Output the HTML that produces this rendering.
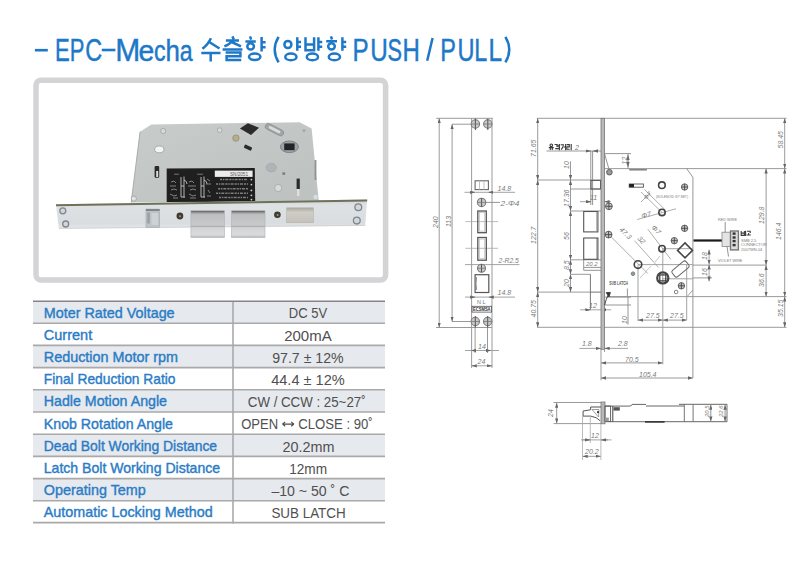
<!DOCTYPE html>
<html><head><meta charset="utf-8">
<style>
html,body{margin:0;padding:0;background:#fff;}
body{width:810px;height:565px;overflow:hidden;position:relative;font-family:"Liberation Sans",sans-serif;}
svg{position:absolute;left:0;top:0;}
</style></head><body>
<svg width="810" height="565" viewBox="0 0 810 565">
<!-- TITLE -->
<g id="title" fill="#1e78c8" stroke="#1e78c8" stroke-width="0.45" font-family="Liberation Sans, sans-serif" font-size="32">
  <rect x="34.9" y="48.9" width="12.9" height="2.6" stroke="none"/>
  <rect x="101.8" y="48.7" width="13.6" height="2.6" stroke="none"/>
  <text transform="translate(56.80 60.5) scale(0.692 1)" x="-2.62">E</text>
  <text transform="translate(71.60 60.5) scale(0.687 1)" x="-2.62">P</text>
  <text transform="translate(86.40 60.5) scale(0.730 1)" x="-1.62">C</text>
  <text transform="translate(117.80 60.5) scale(0.939 1)" x="-2.62">M</text>
  <text transform="translate(139.80 60.5) scale(0.961 1)" x="-1.25" font-size="29.5">e</text>
  <text transform="translate(154.95 60.5) scale(0.786 1)" x="-1.25" font-size="29.5">c</text>
  <text transform="translate(167.35 60.5) scale(0.876 1)" x="-2.05" font-size="29.5">h</text>
  <text transform="translate(180.65 60.5) scale(0.785 1)" x="-1.25" font-size="29.5">a</text>
  <text transform="translate(354.35 60.5) scale(0.757 1)" x="-2.62">P</text>
  <text transform="translate(372.05 60.5) scale(0.759 1)" x="-2.47">U</text>
  <text transform="translate(388.45 60.5) scale(0.679 1)" x="-1.45">S</text>
  <text transform="translate(404.45 60.5) scale(0.750 1)" x="-2.62">H</text>
  <text transform="translate(442.05 60.5) scale(0.734 1)" x="-2.62">P</text>
  <text transform="translate(459.35 60.5) scale(0.737 1)" x="-2.47">U</text>
  <text transform="translate(476.25 60.5) scale(0.730 1)" x="-2.62">L</text>
  <text transform="translate(490.45 60.5) scale(0.765 1)" x="-2.62">L</text>
  <path d="M278.6 36.8 Q270.8 49.6 278.6 62.4 M505.4 36.8 Q513.2 49.6 505.4 62.4 M432.6 38 L427.2 60.8" fill="none" stroke-width="2.5"/>
</g>
<g id="kor" fill="none" stroke="#1e78c8" stroke-width="2.5">
  <!-- 수 -->
  <path d="M210.9 38.2 Q208.4 44 202.4 48.8 M209.6 42.2 L219.5 48.5 M201.3 53 H220.5 M210.7 53 V61.4"/>
  <!-- 출 -->
  <path d="M232.4 36.4 L233.8 39.4 M225.9 40.4 H239 M232.6 40.4 Q230.4 44 224.4 46.4 M231.6 42 L241 46.4 M222.6 49.5 H242.4 M225.6 52.5 H240.4 V56.3 H226.6 V60.1 H241.2"/>
  <!-- 향 -->
  <path d="M250 36.4 L251.2 39.6 M245.4 41.4 H255.8 M261.6 37 V51.6 M261.6 42.2 H265.6 M261.6 47.2 H265.6"/>
  <ellipse cx="250.6" cy="46.4" rx="3.3" ry="3.1"/>
  <ellipse cx="254.7" cy="56.8" rx="5.7" ry="3.2"/>
  <!-- 양 -->
  <ellipse cx="287.9" cy="44.5" rx="3.5" ry="3.6"/>
  <path d="M297.3 37.3 V50.7 M297.3 42 H301 M297.3 46.8 H301"/>
  <ellipse cx="290.9" cy="56.9" rx="5.6" ry="3.3"/>
  <!-- 방 -->
  <path d="M305.5 37.3 V50.3 H314.1 V37.3 M305.5 44.6 H314.1 M318.4 37.3 V50.7 M318.4 42 H322.2 M318.4 46.8 H322.2"/>
  <ellipse cx="312.4" cy="56.9" rx="5.6" ry="3.3"/>
  <!-- 향 -->
  <path d="M330.9 36.4 L332.1 39.5 M326.2 41.3 H337 M342.4 37.3 V50.7 M342.4 42 H346.2 M342.4 46.8 H346.2"/>
  <ellipse cx="331.5" cy="46.3" rx="3.3" ry="3.1"/>
  <ellipse cx="334.4" cy="56.9" rx="5.6" ry="3.3"/>
</g>

<!-- PHOTO BOX -->
<rect x="36" y="80.2" width="349.6" height="199.7" rx="5" ry="5" fill="#fff" stroke="#d4d4d7" stroke-width="5.5"/>
<defs>
  <linearGradient id="gBody" x1="0" y1="0" x2="1" y2="1">
    <stop offset="0" stop-color="#c8cccb"/>
    <stop offset="0.5" stop-color="#c2c7c6"/>
    <stop offset="1" stop-color="#bdc2c1"/>
  </linearGradient>
  <linearGradient id="gFace" x1="0" y1="0" x2="0" y2="1">
    <stop offset="0" stop-color="#cfd3d6"/>
    <stop offset="0.2" stop-color="#dfe2e5"/>
    <stop offset="0.8" stop-color="#dadde0"/>
    <stop offset="1" stop-color="#e4e6e8"/>
  </linearGradient>
  <linearGradient id="gBolt" x1="0" y1="0" x2="0" y2="1">
    <stop offset="0" stop-color="#47494b"/>
    <stop offset="0.06" stop-color="#8e9092"/>
    <stop offset="0.13" stop-color="#bcbec0"/>
    <stop offset="0.5" stop-color="#c8c9ca"/>
    <stop offset="0.56" stop-color="#c2c3c4"/>
    <stop offset="0.58" stop-color="#a8a9aa"/>
    <stop offset="0.63" stop-color="#d2d3d4"/>
    <stop offset="0.9" stop-color="#dadbdc"/>
    <stop offset="1" stop-color="#b4b5b6"/>
  </linearGradient>
  <linearGradient id="gLatch" x1="0" y1="0" x2="0" y2="1">
    <stop offset="0" stop-color="#a9a79f"/>
    <stop offset="0.3" stop-color="#cfcdc5"/>
    <stop offset="1" stop-color="#c4c2ba"/>
  </linearGradient>
</defs>
<g id="lock">
  <!-- body -->
  <polygon points="140.1,131.7 151.3,124.4 299.6,122.2 311.6,128.5 318.8,201.5 131.2,202.5" fill="url(#gBody)"/>
  <line x1="140.1" y1="131.7" x2="131.2" y2="202.5" stroke="#a8abad" stroke-width="1"/>
  <!-- screws / holes on body -->
  <circle cx="163.2" cy="131" r="2.6" fill="#d7d9da" stroke="#a0a3a5" stroke-width="0.8"/>
  <circle cx="219.7" cy="130.2" r="2.4" fill="#d7d9da" stroke="#a0a3a5" stroke-width="0.8"/>
  <circle cx="304" cy="130.6" r="1.6" fill="#a7aaac"/>
  <ellipse cx="159.3" cy="149.4" rx="4.6" ry="3.4" fill="#f4f5f5" stroke="#9d9fa0" stroke-width="0.8"/>
  <rect x="154.6" y="166" width="4.6" height="11.8" rx="1" fill="#2a2a2a"/>
  <rect x="156.2" y="171" width="2" height="6" fill="#dcdcdc"/>
  <circle cx="133.8" cy="198.6" r="2.6" fill="#e0e2e3" stroke="#9a9c9d" stroke-width="0.8"/>
  <polygon points="239.9,128.5 247.9,123.2 259,127.7 251,134.9" fill="#2b2b2b"/>
  <g transform="rotate(27 274.5 129.7)"><rect x="264.5" y="126.7" width="20" height="6" rx="3" fill="#a2a5a7" stroke="#8d9092" stroke-width="0.8"/><rect x="268" y="128.3" width="13" height="2.6" rx="1.3" fill="#d9dbdc"/></g>
  <circle cx="235.9" cy="138.1" r="3.2" fill="#b8ad86" stroke="#8e8f86" stroke-width="0.8"/>
  <g transform="rotate(25 247.9 147.6)"><rect x="244" y="145.8" width="8" height="3.6" rx="1" fill="#2b2b2b"/></g>
  <ellipse cx="289.4" cy="146.8" rx="9" ry="5.8" fill="#9ea2a5" stroke="#7f8386" stroke-width="1"/>
  <rect x="284.2" y="143.4" width="10.4" height="6.8" fill="#1f2628"/>
  <ellipse cx="271.2" cy="167.6" rx="5.2" ry="4.4" fill="#b1b4b7" stroke="#a0a3a6" stroke-width="0.6"/>
  <rect x="282.4" y="172.3" width="2.8" height="2.6" fill="#7d7f80"/>
  <circle cx="278.2" cy="188" r="3.6" fill="#d8dadb" stroke="#a4a6a7" stroke-width="0.8"/>
  <rect x="296.6" y="178.6" width="3.2" height="10.4" fill="#2a2a2a"/>
  <rect x="297" y="189" width="2.4" height="7" fill="#e0dfd8"/>
  <rect x="314.6" y="160" width="1.8" height="20" fill="#8f9294"/>
  <circle cx="315.6" cy="197" r="2.2" fill="#cfe0e8"/>
  <!-- label -->
  <polygon points="166.7,168.4 254.8,168.1 255.2,201.4 166.7,202" fill="#1f1f1f"/>
  <rect x="214.8" y="170.6" width="37.8" height="6.3" fill="#ececec"/>
  <text x="230" y="175.9" font-family="Liberation Sans, sans-serif" font-size="5.6" fill="#555" textLength="18" lengthAdjust="spacingAndGlyphs">SN/2051</text>
  <g stroke="#8a8a8a" stroke-width="0.8" fill="none">
    <path d="M174 174.2 h5 M197 174.2 h6"/>
  </g>
  <g stroke="#c4c4c4" stroke-width="0.9" fill="none">
    <path d="M181 177 v20 M184 176.5 v21 M181 186 h3 M184 180 q3 1 3 4 M181 197 h4"/>
    <path d="M201 177 v20 M204 176.5 v21 M201 186 h3 M204 180 q3 1 3 4 M201 197 h4"/>
  </g>
  <g stroke="#9a9a9a" stroke-width="0.8" fill="none">
    <path d="M171 182 l3 -1 l2 2 M170 186 h6 M171 190 q3 -2 6 0 M170 194 l4 2 l3 -1 M173 198 h5"/>
    <path d="M189 182 l3 -1 l2 2 M188 186 h8 M190 190 q3 -2 6 0 M189 194 l4 2 l3 -1 M190 198 h6"/>
    <path d="M207 179 l3 2 M206 184 h5 M208 190 l2 3 M207 196 h4"/>
  </g>
  <g stroke="#7e7e7e" stroke-width="1.5" fill="none" stroke-dasharray="2.2 0.8 1.4 0.9 3 1">
    <path d="M220 179.6 H248 M216 184 H248 M218 188.8 H248 M216 193.2 H248 M219 197.6 H248"/>
  </g>
  <g fill="#cfcfcf"><circle cx="251.4" cy="179.6" r="0.9"/><circle cx="251.4" cy="184.6" r="0.9"/><circle cx="251.4" cy="190.4" r="0.9"/><circle cx="251.4" cy="195.3" r="0.9"/><circle cx="251.4" cy="199.6" r="0.9"/></g>
  <!-- faceplate -->
  <polygon points="55.9,204.2 367.2,199.6 365.2,225.6 58.8,228.6" fill="url(#gFace)"/>
  <polygon points="55.9,204.2 367.2,199.6 367.1,201.6 56.1,206.2" fill="#6f7158"/>
  <line x1="58.8" y1="228.4" x2="365.2" y2="225.4" stroke="#c9cbcd" stroke-width="0.8"/>
  <!-- faceplate screws -->
  <g fill="#d2d6d8" stroke="#7d8790" stroke-width="1.3">
    <circle cx="62.8" cy="210.8" r="3"/>
    <circle cx="65.7" cy="224" r="3"/>
    <circle cx="358.3" cy="207.2" r="3.4"/>
    <circle cx="356.8" cy="220.6" r="3.4"/>
  </g>
  <circle cx="179.9" cy="216" r="3.4" fill="#3c3c32"/><circle cx="180.1" cy="216.2" r="1" fill="#a89a6a"/>
  <circle cx="277.4" cy="214.8" r="3.3" fill="#3c3c32"/><circle cx="277.6" cy="215" r="1" fill="#a89a6a"/>
  <!-- aux latch -->
  <rect x="146" y="209.1" width="13.6" height="18.2" fill="#bcc2c5" stroke="#a3a8ab" stroke-width="0.6"/>
  <rect x="146" y="209.1" width="13.6" height="1.8" fill="#7b8083"/>
  <rect x="147.2" y="212.5" width="2.6" height="11" fill="#9aa0a3"/>
  <rect x="151.5" y="213" width="6.5" height="12" fill="#cdd3d5"/>
  <!-- bolts -->
  <rect x="190.9" y="210.8" width="33.6" height="26.7" fill="url(#gBolt)" stroke="#b0b2b4" stroke-width="0.6"/>
  <rect x="231.4" y="210.8" width="33.6" height="26.7" fill="url(#gBolt)" stroke="#b0b2b4" stroke-width="0.6"/>
  <!-- latch -->
  <rect x="286.7" y="207.8" width="26.7" height="14.9" fill="url(#gLatch)" stroke="#b5b3ab" stroke-width="0.6"/>
</g>

<!-- TABLE -->
<g id="table">
  <rect x="33" y="301" width="352" height="22.2" fill="#e6e9ed"/>
  <rect x="33" y="345.4" width="352" height="22.2" fill="#e6e9ed"/>
  <rect x="33" y="389.8" width="352" height="22.2" fill="#e6e9ed"/>
  <rect x="33" y="434.2" width="352" height="22.2" fill="#e6e9ed"/>
  <rect x="33" y="478.6" width="352" height="22.2" fill="#e6e9ed"/>
  <g stroke="#a9a9a9" stroke-width="1.6">
    <line x1="33" y1="323.2" x2="385" y2="323.2"/>
    <line x1="33" y1="345.4" x2="385" y2="345.4"/>
    <line x1="33" y1="367.6" x2="385" y2="367.6"/>
    <line x1="33" y1="389.8" x2="385" y2="389.8"/>
    <line x1="33" y1="412" x2="385" y2="412"/>
    <line x1="33" y1="434.2" x2="385" y2="434.2"/>
    <line x1="33" y1="456.4" x2="385" y2="456.4"/>
    <line x1="33" y1="478.6" x2="385" y2="478.6"/>
    <line x1="33" y1="500.8" x2="385" y2="500.8"/>
    <line x1="33" y1="522.6" x2="385" y2="522.6"/>
    <line x1="233" y1="301" x2="233" y2="523.4"/>
  </g>
  <line x1="33" y1="301.2" x2="385" y2="301.2" stroke="#858585" stroke-width="1.6"/>
  <g fill="#2a7cc6" stroke="#2a7cc6" stroke-width="0.4" font-size="14.8" font-family="Liberation Sans, sans-serif">
    <text x="43.8" y="317.6" textLength="130.8" lengthAdjust="spacingAndGlyphs">Moter Rated Voltage</text>
    <text x="43.8" y="339.8" textLength="48.4" lengthAdjust="spacingAndGlyphs">Current</text>
    <text x="43.8" y="362.0" textLength="134.1" lengthAdjust="spacingAndGlyphs">Reduction Motor rpm</text>
    <text x="43.8" y="384.2" textLength="131.7" lengthAdjust="spacingAndGlyphs">Final Reduction Ratio</text>
    <text x="43.8" y="406.4" textLength="123.2" lengthAdjust="spacingAndGlyphs">Hadle Motion Angle</text>
    <text x="43.8" y="428.6" textLength="129.2" lengthAdjust="spacingAndGlyphs">Knob Rotation Angle</text>
    <text x="43.8" y="450.8" textLength="173.3" lengthAdjust="spacingAndGlyphs">Dead Bolt Working Distance</text>
    <text x="43.8" y="473.0" textLength="176.3" lengthAdjust="spacingAndGlyphs">Latch Bolt Working Distance</text>
    <text x="43.8" y="495.2" textLength="102.0" lengthAdjust="spacingAndGlyphs">Operating Temp</text>
    <text x="43.8" y="517.4" textLength="168.8" lengthAdjust="spacingAndGlyphs">Automatic Locking Method</text>
  </g>
  <g fill="#505050" font-size="15.2" font-family="Liberation Sans, sans-serif">
    <text x="288.8" y="318.3" textLength="38.3" lengthAdjust="spacingAndGlyphs">DC 5V</text>
    <text x="284.2" y="340.5" textLength="47.5" lengthAdjust="spacingAndGlyphs">200mA</text>
    <text x="272.2" y="362.7" textLength="71.5" lengthAdjust="spacingAndGlyphs">97.7 ± 12%</text>
    <text x="271.2" y="384.9" textLength="73.5" lengthAdjust="spacingAndGlyphs">44.4 ± 12%</text>
    <text x="247.8" y="407.1" textLength="117.8" lengthAdjust="spacingAndGlyphs">CW / CCW : 25~27˚</text>
    <text x="241.2" y="429.3" textLength="37" lengthAdjust="spacingAndGlyphs">OPEN</text>
    <text x="298.2" y="429.3" textLength="74.5" lengthAdjust="spacingAndGlyphs">CLOSE : 90˚</text>
    <path d="M282.6 424.1 H293.8 M282.4 424.1 L285.2 421.9 M282.4 424.1 L285.2 426.3 M294 424.1 L291.2 421.9 M294 424.1 L291.2 426.3" stroke="#4a4a4a" stroke-width="1.1" fill="none"/>
    <text x="282.6" y="451.5" textLength="52.0" lengthAdjust="spacingAndGlyphs">20.2mm</text>
    <text x="289.2" y="473.7" textLength="37.9" lengthAdjust="spacingAndGlyphs">12mm</text>
    <text x="271.4" y="495.9" textLength="78.0" lengthAdjust="spacingAndGlyphs">–10 ~ 50 ˚ C</text>
    <text x="271.4" y="518.1" textLength="74.3" lengthAdjust="spacingAndGlyphs">SUB LATCH</text>
  </g>
</g>
<!-- DRAWING -->
<defs>
  <marker id="ar" viewBox="0 0 6 4" refX="6" refY="2" markerWidth="5" markerHeight="3.4" orient="auto-start-reverse" markerUnits="userSpaceOnUse"><path d="M0 0 L6 2 L0 4 Z" fill="#666"/></marker>
</defs>
<g id="draw" fill="none" stroke="#8f8f8f" stroke-width="0.9">
  <!-- LEFT VIEW -->
  <path d="M436.2 118.3 H492.8 M452 124.2 H472 M452 321.5 H472 M436 327.5 H492 M471.6 118.3 V367.9 M492 118.3 V367.9"/>
  <path d="M439.2 118.3 V327.5" marker-start="url(#ar)" marker-end="url(#ar)"/>
  <path d="M452.1 124.2 V321.5" marker-start="url(#ar)" marker-end="url(#ar)"/>
  <path d="M475.1 321.5 V353 M487.5 321.5 V353"/>
  <path d="M464.5 192.3 H515 M465 264.6 H519.4 M465 297.1 H515 M465 350.5 H499 M471.6 365.8 H492" stroke="#999"/>
  <path d="M471.6 192.3 H475.1" marker-end="url(#ar)" stroke="#999"/>
  <path d="M492 192.3 H488.4" marker-end="url(#ar)" stroke="#999"/>
  <path d="M471.6 297.1 H475.1" marker-end="url(#ar)" stroke="#999"/>
  <path d="M492 297.1 H488.8" marker-end="url(#ar)" stroke="#999"/>
  <path d="M475.1 350.5 H471" marker-end="url(#ar)" stroke="#999"/>
  <path d="M487.5 350.5 H491" marker-end="url(#ar)" stroke="#999"/>
  <path d="M471.8 365.8 H474" marker-start="url(#ar)"/>
  <path d="M491.8 365.8 H489.6" marker-start="url(#ar)"/>
  <path d="M465.4 221.6 H498.1 M465.4 248.3 H498.1" stroke="#aaa" stroke-width="0.8"/>
  <rect x="475.1" y="180.8" width="13.3" height="8.8" stroke="#666" stroke-width="1.1"/>
  <path d="M479.5 180.8 V189.6 M484 180.8 V189.6" stroke="#bbb"/>
  <rect x="477.8" y="211" width="8.5" height="21.7" stroke="#555" stroke-width="1.3"/>
  <rect x="479.4" y="212.6" width="5.3" height="18.5" stroke="#bbb" stroke-width="0.7"/>
  <rect x="477.8" y="237.5" width="8.5" height="22.7" stroke="#555" stroke-width="1.3"/>
  <rect x="479.4" y="239.1" width="5.3" height="19.5" stroke="#bbb" stroke-width="0.7"/>
  <rect x="475.1" y="274.7" width="13.7" height="17.8" stroke="#555" stroke-width="1.2"/>
  <path d="M476.6 277 Q475.6 283.5 476.6 290" stroke="#888"/>
  <g stroke="#7a7a7a" stroke-width="1.1" fill="#c9c9c9">
    <circle cx="475.4" cy="124" r="4.2"/><circle cx="487.8" cy="124" r="4.2"/>
    <circle cx="475.3" cy="321.5" r="4.2"/><circle cx="487.7" cy="321.5" r="4.2"/>
    <circle cx="481.6" cy="202.4" r="4.2"/><circle cx="481.5" cy="268.3" r="4"/>
  </g>
  <g stroke="#555" stroke-width="1" fill="none">
    <path d="M475.4 118.5 V130 M487.8 118.5 V130 M475.3 316 V327.5 M487.7 316 V327.5 M481.6 198.2 V206.6 M481.5 264.3 V272.3"/>
    <path d="M471.6 124 H479.2 M484 124 H491.6 M471.6 321.5 H479.2 M484 321.5 H491.6 M477.4 202.4 H485.8 M477.5 268.3 H485.5" stroke="#777" stroke-width="0.8"/>
    <path d="M485.8 202.4 H500" stroke="#888" stroke-width="0.9"/>
  </g>
  <!-- MAIN VIEW -->
  <path d="M536.8 118.3 H786.5 M537 180 H602 M537 292.1 H590.4 M537 327.3 H786.5 M604.5 168.6 H786.5 M608 296.6 H786.5 M692.9 265.1 H766 M692.9 277.9 H712"/>
  <path d="M537.7 118.3 V180" marker-start="url(#ar)" marker-end="url(#ar)"/>
  <path d="M537.7 180 V292.1" marker-start="url(#ar)" marker-end="url(#ar)"/>
  <path d="M537.7 292.1 V327.3" marker-start="url(#ar)" marker-end="url(#ar)"/>
  <path d="M784.7 118.3 V168.6" marker-start="url(#ar)" marker-end="url(#ar)"/>
  <path d="M784.7 168.6 V296.6" marker-start="url(#ar)" marker-end="url(#ar)"/>
  <path d="M784.7 296.6 V327.3" marker-start="url(#ar)" marker-end="url(#ar)"/>
  <path d="M766.1 168.6 V265.1" marker-start="url(#ar)" marker-end="url(#ar)"/>
  <path d="M766.1 265.1 V296.6" marker-start="url(#ar)" marker-end="url(#ar)"/>
  <path d="M570.5 161.3 V180" marker-end="url(#ar)"/>
  <path d="M570.5 180 V211" marker-start="url(#ar)" marker-end="url(#ar)"/>
  <path d="M570.5 211 V259.8" marker-start="url(#ar)" marker-end="url(#ar)"/>
  <path d="M570.5 259.8 V274.3" marker-start="url(#ar)" marker-end="url(#ar)"/>
  <path d="M570.5 274.3 V292.1" marker-start="url(#ar)" marker-end="url(#ar)"/>
  <path d="M570 211 H601 M570 259.8 H601 M570 274.3 H590.4 M570 189 H600.5"/>
  <path d="M546.5 151 H601"/>
  <path d="M586 151 H590.8" marker-end="url(#ar)"/>
  <path d="M597 151 H593" marker-end="url(#ar)"/>
  <path d="M590.8 151 V205 M592.6 151 V205" stroke="#888"/>
  <rect x="591" y="180.4" width="9.5" height="8.6" stroke="#555" stroke-width="1"/>
  <path d="M580 201.7 H591 M611 201.7 H604.5" stroke="#999"/>
  <path d="M586 201.7 H591" marker-end="url(#ar)"/>
  <path d="M609 201.7 H604.5" marker-end="url(#ar)"/>
  <rect x="583.7" y="211.5" width="14.2" height="20.4" stroke="#555" stroke-width="1.1"/>
  <path d="M596.8 211.5 V231.9 M596.8 238 V259.3"/>
  <rect x="583.7" y="238" width="14.2" height="21.3" stroke="#555" stroke-width="1.1"/>
  <path d="M583.7 259.8 V270.3 H601 M583.7 267.4 H601" stroke="#888"/>
  <path d="M590.4 274.3 V309.8 M590.4 292.1 H601" stroke="#666"/>
  <path d="M580.2 309.8 H611.2 M579.3 348.4 H601 M604.5 348.4 H628" stroke="#999"/>
  <path d="M585 309.8 H590.4" marker-end="url(#ar)"/>
  <path d="M606 309.8 H601.3" marker-end="url(#ar)"/>
  <path d="M596 348.4 H600.8" marker-end="url(#ar)"/>
  <path d="M609 348.4 H604.7" marker-end="url(#ar)"/>
  <path d="M601 362.9 H662.8" marker-start="url(#ar)" marker-end="url(#ar)"/>
  <path d="M601 378 H692.9" marker-start="url(#ar)" marker-end="url(#ar)"/>
  <path d="M601 349 V380.3 M604.5 349 V352"/>
  <!-- faceplate bar -->
  <rect x="601" y="118.3" width="3.5" height="231" fill="#b9b9b9" stroke="#777" stroke-width="0.8"/>
  <!-- body -->
  <path d="M686.7 168.6 L692.9 177.3 V378 M604.6 153.6 H631 M604.6 153.8 L609.4 170.8 M628 153.6 V168.6" stroke="#8a8a8a"/>
  <path d="M628 155 V167" marker-start="url(#ar)" marker-end="url(#ar)" stroke="#999"/>
  <path d="M629.2 169.8 H646.9" stroke="#777" stroke-width="1.4"/>
  <path d="M604.6 297.1 H631 M604.6 305 H631 M628 297.1 V324.5 M627.4 288.5 V296.6" stroke="#8a8a8a"/>
  <path d="M686.7 265 V320.1 M638 264.6 V321 M662.8 248.7 V364.3 M686.7 297 L692.9 290" stroke="#999"/>
  <path d="M638 320.1 H662.8" marker-start="url(#ar)" marker-end="url(#ar)"/>
  <path d="M662.8 320.1 H686.7" marker-start="url(#ar)" marker-end="url(#ar)"/>
  <path d="M662 248.7 H692.9 M638 264.6 H692.9 M662 278.8 H692.9" stroke="#999"/>
  <!-- diagonal dims -->
  <path d="M608.8 234.5 L647.8 273.5 M634.5 240.7 L658.4 267.3 M647.8 229.2 L670.8 259.3 M637.2 219.5 L676 208.8 M641 192 L662 212.4 M644.5 189.5 L664.5 209.2 M641 202 L650 193" stroke="#999" stroke-width="0.8"/>
  <path d="M651 266 L640 278 M655 262 L660 256" stroke="#aaa" stroke-width="0.7"/>
  <!-- screws -->
  <g stroke="#666" stroke-width="1" fill="#c4c4c4">
    <circle cx="608.9" cy="206.3" r="3.4"/><circle cx="608.6" cy="234.6" r="3.4"/>
    <circle cx="684.6" cy="187" r="3.2"/><circle cx="684.6" cy="228.3" r="3.2"/>
    <circle cx="674.3" cy="240.7" r="3.2"/><circle cx="681.4" cy="285.8" r="3.2"/>
  </g>
  <g stroke="#444" stroke-width="0.9">
    <path d="M605.5 206.3 H612.3 M608.9 202.9 V209.7 M605.2 234.6 H612 M608.6 231.2 V238 M681.4 187 H687.8 M684.6 183.8 V190.2 M681.4 228.3 H687.8 M684.6 225.1 V231.5 M671.1 240.7 H677.5 M674.3 237.5 V243.9 M678.2 285.8 H684.6 M681.4 282.6 V289"/>
  </g>
  <circle cx="609.4" cy="172.2" r="2.8" fill="#9a9a9a" stroke="#555"/>
  <circle cx="633" cy="273.7" r="1.8" fill="#999" stroke="#777"/>
  <circle cx="676.1" cy="292" r="1.8" stroke="#777"/>
  <rect x="629.2" y="184" width="14.2" height="3.2" stroke="#555"/>
  <rect x="629.2" y="184" width="4.8" height="3.2" fill="#222" stroke="none"/>
  <g stroke="#444" stroke-width="1.6">
    <circle cx="661.9" cy="185.2" r="3.3"/>
    <circle cx="662" cy="212.4" r="3.2"/>
    <circle cx="662" cy="248.7" r="3.2"/>
    <circle cx="638" cy="264.6" r="3.8"/>
    <circle cx="662.8" cy="277.9" r="5.6" stroke-width="2.2"/>
  </g>
  <rect x="659.8" y="274.9" width="6" height="6" stroke="#333" stroke-width="1.2"/>
  <polygon points="685,242.9 692.5,250.4 685,257.9 677.5,250.4" stroke="#444" stroke-width="1.5"/>
  <rect x="671.5" y="265" width="18" height="8" rx="2" transform="rotate(-40 680.5 269)" stroke="#666" stroke-width="1"/>
  <!-- latch lever bottom -->
  <path d="M608.4 294.6 Q606 299 604.6 305" stroke="#444" stroke-width="1"/>
  <path d="M606.2 292.6 L610.4 292.4 L609 297 Z" fill="#333" stroke="#333" stroke-width="0.8"/>
  <!-- wire & connector -->
  <path d="M693.5 240.5 H722.4" stroke="#1a1a1a" stroke-width="2.2"/>
  <rect x="722" y="232.2" width="8.5" height="14.2" fill="#e4e4e4" stroke="#888" stroke-width="0.8"/>
  <rect x="730.5" y="231" width="7.9" height="18.9" fill="#ddd" stroke="#777" stroke-width="1.4"/>
  <g fill="#333" stroke="none"><rect x="732.6" y="232.4" width="3" height="2.4"/><rect x="732.6" y="236.3" width="3" height="2.4"/><rect x="732.6" y="239.9" width="3" height="2.4"/><rect x="732.6" y="243.9" width="3" height="2.4"/></g>
  <path d="M725.2 222 V232.2 M727 246.4 L728.5 256.5" stroke="#777" stroke-width="0.8"/>
  <path d="M709.1 249.6 V264.6" marker-start="url(#ar)" marker-end="url(#ar)" stroke="#999"/>
  <path d="M709.1 264.6 V281.4" marker-start="url(#ar)" marker-end="url(#ar)" stroke="#999"/>
  <!-- BOTTOM VIEW -->
  <path d="M553.5 402.5 H601 M553.5 423.6 H601"/>
  <path d="M556.7 402.8 V423.4" marker-start="url(#ar)" marker-end="url(#ar)"/>
  <rect x="601" y="402" width="4" height="21.8" fill="#b9b9b9" stroke="#777" stroke-width="0.8"/>
  <path d="M601 407 H590.6 V409.8 L583.1 411 V416.1 H590.6 Q597 417 600.2 420.8" stroke="#555" stroke-width="1"/>
  <path d="M592 409.5 L599 409.5 L598.5 417 Z" stroke="#777" stroke-width="0.7"/>
  <circle cx="598" cy="412.2" r="1.1" fill="#333" stroke="none"/>
  <path d="M605 406.1 H629.4 Q632 406 632 404.4 H646 M646 406 H684 M679 404.3 H727 M612.8 421.7 H727 M605 421.7 H612.8" stroke="#666" stroke-width="1"/>
  <path d="M645 421.9 H664.6" stroke="#333" stroke-width="1.6"/>
  <rect x="605" y="406.1" width="5.6" height="15.4" stroke="#555" stroke-width="0.9"/>
  <rect x="605.3" y="417.6" width="3.5" height="3.8" fill="#999" stroke="none"/>
  <path d="M612.8 406.1 V421.7" stroke="#444" stroke-width="1"/>
  <rect x="613.5" y="407.2" width="6.3" height="3.4" fill="#555" stroke="none"/>
  <path d="M684.3 404.3 V421.9 M693.1 404.3 V421.9 M727 404.3 V421.9" stroke="#666"/>
  <path d="M710.8 404.8 V421.4" marker-start="url(#ar)" marker-end="url(#ar)" stroke="#888"/>
  <path d="M725.1 404.8 V421.4" marker-start="url(#ar)" marker-end="url(#ar)" stroke="#888"/>
  <path d="M582.5 416 V460 M590.3 416.5 V443 M600.9 424 V460" stroke="#aaa" stroke-width="0.8"/>
  <path d="M581 439.9 H611.5" stroke="#999"/>
  <path d="M583 439.9 H590.1" marker-end="url(#ar)"/>
  <path d="M608 439.9 H601.1" marker-end="url(#ar)"/>
  <path d="M582.7 456.3 H600.7" marker-start="url(#ar)" marker-end="url(#ar)"/>
</g>
<!-- drawing texts -->
<g fill="#7a7a7a" font-family="Liberation Sans, sans-serif" font-size="7" font-style="italic">
  <text x="497.5" y="190.5">14.8</text>
  <text x="500.5" y="205.5" font-size="7" textLength="19" lengthAdjust="spacingAndGlyphs">2-Φ4</text>
  <text x="498.5" y="262.8" font-size="6.8">2-R2.5</text>
  <text x="497.5" y="295.2">14.8</text>
  <text x="477" y="304" font-size="5.5" font-style="normal">N  L</text>
  <text x="478" y="348.5">14</text>
  <text x="477.5" y="364">24</text>
  <text transform="translate(437.5 228) rotate(-90)" font-size="7">240</text>
  <text transform="translate(451 227) rotate(-90)" font-size="7">113</text>
  <text transform="translate(536 157) rotate(-90)">71.65</text>
  <text transform="translate(536 244) rotate(-90)">122.7</text>
  <text transform="translate(536 317.5) rotate(-90)">40.75</text>
  <text transform="translate(568.6 169) rotate(-90)">10</text>
  <text transform="translate(568.6 207) rotate(-90)">17.36</text>
  <text transform="translate(568.6 240) rotate(-90)">56</text>
  <text transform="translate(568.6 270) rotate(-90)">8.5</text>
  <text transform="translate(568.6 287) rotate(-90)">20</text>
  <text transform="translate(626.5 164.5) rotate(-90)">12</text>
  <text transform="translate(626.5 324) rotate(-90)">10</text>
  <text transform="translate(783 148.5) rotate(-90)">58.45</text>
  <text transform="translate(781 240) rotate(-90)">146.4</text>
  <text transform="translate(783 317) rotate(-90)">35.15</text>
  <text transform="translate(764 224) rotate(-90)">129.8</text>
  <text transform="translate(764 287) rotate(-90)">36.6</text>
  <text transform="translate(707.4 260) rotate(-90)">18</text>
  <text transform="translate(707.4 276) rotate(-90)">16</text>
  <text transform="translate(553 417) rotate(-90)">24</text>
  <text transform="translate(709 417) rotate(-90)" font-size="6">20.5</text>
  <text transform="translate(723 417) rotate(-90)" font-size="6">22.6</text>
  <text x="590" y="199.5">11</text>
  <text x="586" y="266" font-size="6">20.2</text>
  <text x="589" y="307.5">12</text>
  <text x="582" y="346.2">1.8</text>
  <text x="618" y="346.2">2.8</text>
  <text x="625" y="361.5">70.5</text>
  <text x="639" y="376.7">105.4</text>
  <text x="646" y="317.8">27.5</text>
  <text x="670" y="317.8">27.5</text>
  <text x="591" y="437.5">12</text>
  <text x="585" y="454">20.2</text>
  <text transform="translate(619 230) rotate(45)">47.3</text>
  <text transform="translate(637 239) rotate(45)">32</text>
  <text transform="translate(651 228) rotate(45)">Φ7</text>
  <text transform="translate(642 218.5) rotate(-15)">Φ7</text>
  <text transform="translate(646 200) rotate(-45)" font-size="6">Φ7</text>
  <text x="656" y="198" font-size="4" font-style="normal" textLength="32" lengthAdjust="spacingAndGlyphs">(SOLENOID Φ7 SET)</text>
  <text x="718" y="221.3" font-size="3.8" font-style="normal">RED WIRE</text>
  <text x="718" y="261.5" font-size="3.8" font-style="normal">VIOLET WIRE</text>
    <text x="741" y="241.6" font-size="4" font-style="normal">SMB 2.5</text>
  <text x="741" y="246.4" font-size="4" font-style="normal">CONNECTOR</text>
  <text x="741" y="251.3" font-size="4" font-style="normal">2007WN-04</text>
  <text x="609.2" y="285" font-size="4.6" font-style="normal" font-weight="bold" fill="#555" textLength="18.8" lengthAdjust="spacingAndGlyphs">SUB LATCH</text>
    <text x="575" y="149.5" font-size="7">2</text>
</g>
<g fill="none" stroke="#3a3a3a" stroke-width="1.1">
  <circle cx="551.3" cy="145.3" r="1.3"/>
  <path d="M548.8 147.6 H553.8 M550.3 147.6 V150 M552.3 147.6 V150"/>
  <path d="M554.6 144.5 H557 V147 M559.4 143.9 V148.2 M557.6 145.3 H559.4 M557.6 146.8 H559.4 M555.2 148.6 H559.4 V150.2"/>
  <path d="M560.6 144.8 H563.4 Q563.4 148 561 149.6 M565.6 143.9 V150.2 M564 147 H565.6"/>
  <path d="M566.6 144.6 H569.3 V146.9 H566.8 V149.3 H569.7 M571.2 143.9 V150.2"/>
  <path d="M741.2 231 V235.4 H744.4 V231 M741.2 233.1 H744.4 M745.6 230.8 V236"/>
  <path d="M747 231.2 H750.2 V233 M748.6 233 V234.6 M746.6 235 H750.8"/>
</g>
<rect x="472" y="306.3" width="19.6" height="5.8" fill="none" stroke="#555" stroke-width="0.8"/>
<text x="473" y="311.2" font-family="Liberation Sans, sans-serif" font-size="5" fill="#333" font-weight="bold" textLength="17.6" lengthAdjust="spacingAndGlyphs">ECSMSA</text>
</svg>
</body></html>
